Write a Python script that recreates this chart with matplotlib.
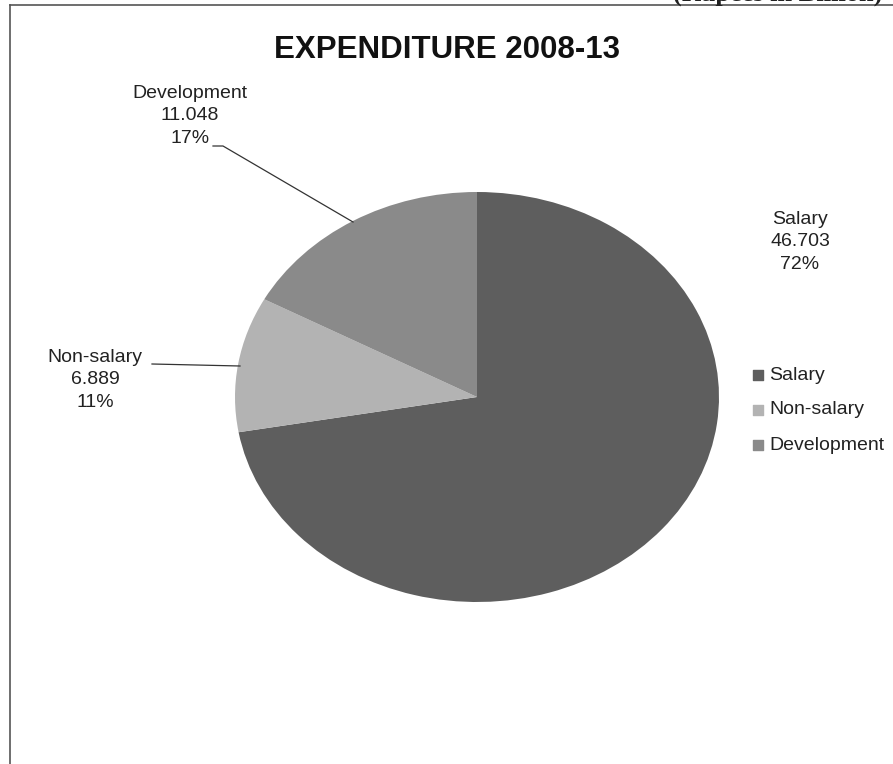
import matplotlib.pyplot as plt

# expenditure 2008-13, rupees in billion
categories = ['Salary', 'Non-salary', 'Development']
values = [46.703, 6.889, 11.048]
colors = ['#5e5e5e', '#b3b3b3', '#8a8a8a']

W, H = 893, 764
fig = plt.figure(figsize=(W / 100, H / 100), dpi=100)

# pie sits in its own axes (the chart is a bit stretched sideways)
cx, cy, rx, ry = 477, 397, 242, 205
pax = fig.add_axes([(cx - rx) / W, (H - cy - ry) / H, 2 * rx / W, 2 * ry / H])
pax.pie(values, colors=colors, startangle=90, counterclock=False)
pax.set_aspect('auto')
pax.set_xlim(-1, 1)
pax.set_ylim(-1, 1)
pax.axis('off')

# overlay axes in pixel units for texts and lines
ax = fig.add_axes([0, 0, 1, 1], zorder=3)
ax.set_xlim(0, W)
ax.set_ylim(H, 0)
ax.axis('off')
ax.patch.set_alpha(0)

font = ['Liberation Sans', 'DejaVu Sans']

# page frame
ax.plot([10, W], [5, 5], color='#555555', lw=1.2)
ax.plot([10, 10], [5, H], color='#555555', lw=1.2)
ax.text(882, 1, '(Rupees in Billion)', family='Liberation Serif', fontweight='bold',
        fontsize=19, ha='right', va='baseline', color='#222222', clip_on=False)

total = sum(values)
ax.text(447, 50, 'EXPENDITURE 2008-13', family=font, fontweight='bold', fontsize=22.5,
        ha='center', va='center', color='#111111')

lbl = dict(family=font, fontsize=14, ha='center', va='center', color='#222222',
           linespacing=1.45)
pos = {'Salary': (800, 242), 'Non-salary': (95, 380), 'Development': (190, 116)}
for c, v in zip(categories, values):
    x, y = pos[c]
    ax.text(x, y, f'{c}\n{v:.3f}\n{v / total:.0%}', **lbl)

# leader lines
ax.plot([213, 223, 353], [146, 146, 222], color='#333333', lw=0.9)
ax.plot([152, 240], [364, 366], color='#333333', lw=0.9)

# legend
leg_y = [375, 410, 445]
for c, col, y in zip(categories, colors, leg_y):
    ax.scatter([758], [y], marker='s', s=50, color=col)
    ax.text(769, y, c, family=font, fontsize=14, ha='left', va='center', color='#222222')

fig.savefig('out.png', dpi=100)
